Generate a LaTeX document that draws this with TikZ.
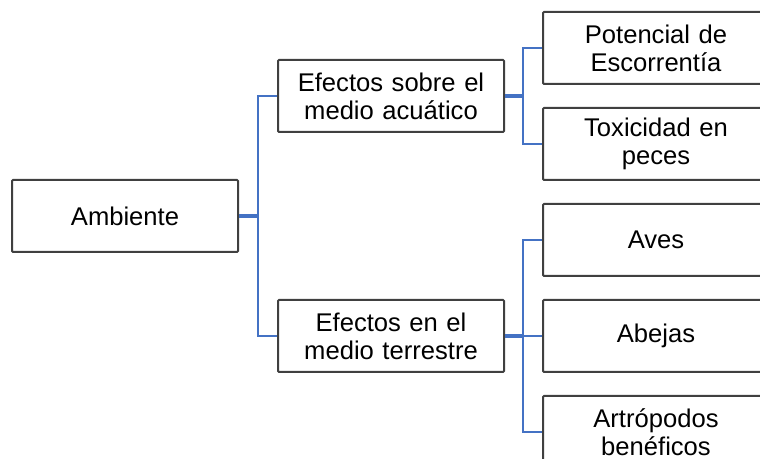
\documentclass[tikz,border=0pt]{standalone}
\usepackage{fontspec}
\setmainfont{Liberation Sans}
\definecolor{linkblue}{RGB}{68,114,196}
\definecolor{boxgray}{RGB}{64,64,64}
\tikzset{
	item/.style={draw=boxgray, line width=1pt, rounded corners=0.5pt, fill=white,
		minimum width=113pt, minimum height=36pt, text width=105pt, align=center,
		inner sep=0pt, font=\fontsize{12.8}{14}\selectfont},
	link/.style={draw=linkblue, line width=1pt},
	stub/.style={draw=linkblue, line width=2pt}
}
\begin{document}
\begin{tikzpicture}[x=0.5pt,y=-0.5pt]
	\useasboundingbox (0,0) rectangle (760,459);
	\clip (0,0) rectangle (760,459);
	% nivel 1
	\node[item] (amb) at (125,216) {Ambiente};
	% nivel 2
	\node[item] (acu) at (391,96) {Efectos sobre el\\medio acuático};
	\node[item] (ter) at (391,336) {Efectos en el\\medio terrestre};
	% nivel 3
	\node[item] (pot) at (656,48) {Potencial de\\Escorrentía};
	\node[item] (tox) at (656,144) {Toxicidad en\\peces};
	\node[item] (aves) at (656,240) {Aves};
	\node[item] (abe) at (656,336) {Abejas};
	\node[item] (art) at (656,432) {Artrópodos\\benéficos};
	% conectores
	\coordinate (b1) at (258,216);
	\coordinate (b2) at (523,96);
	\coordinate (b3) at (523,336);
	\draw[link] (b1) |- (acu.west);
	\draw[link] (b1) |- (ter.west);
	\draw[stub] (amb.east) -- (b1);
	\draw[link] (b2) |- (pot.west);
	\draw[link] (b2) |- (tox.west);
	\draw[stub] (acu.east) -- (b2);
	\draw[link] (b3) |- (aves.west);
	\draw[link] (b3) |- (abe.west);
	\draw[link] (b3) |- (art.west);
	\draw[stub] (ter.east) -- (b3);
\end{tikzpicture}
\end{document}
